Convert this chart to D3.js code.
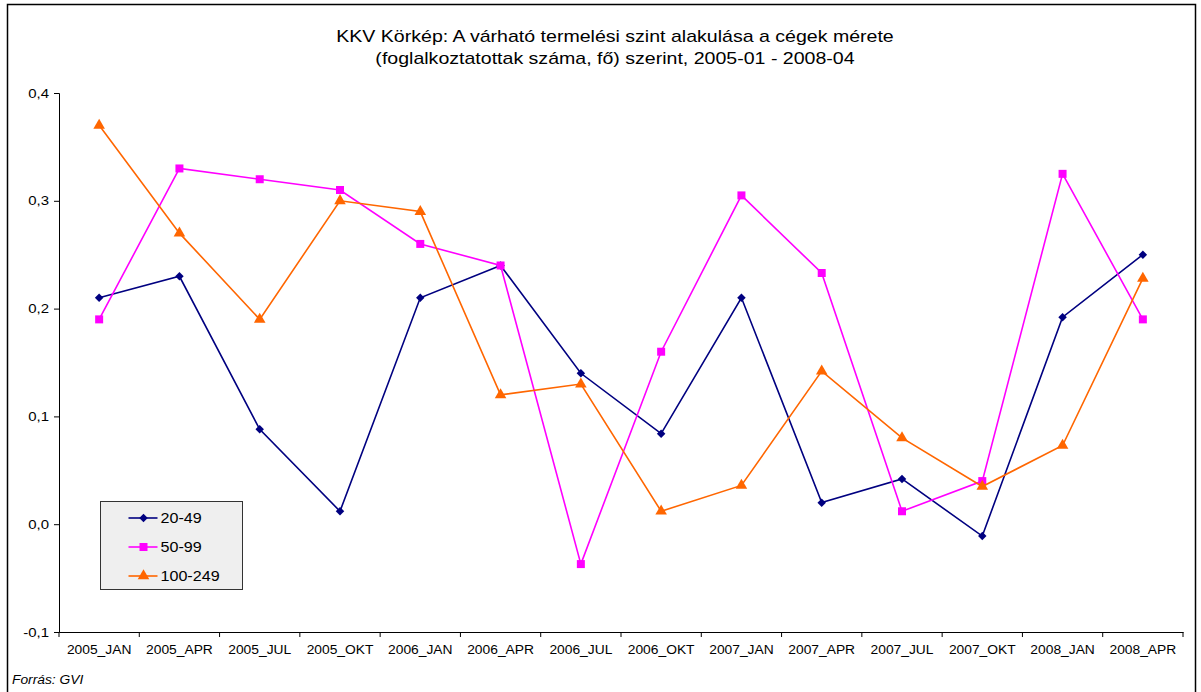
<!DOCTYPE html>
<html>
<head>
<meta charset="utf-8">
<script src="https://cdn.jsdelivr.net/npm/d3@7"></script>
<style>
  body { margin: 0; background: #fff; }
  text { font-family: "Liberation Sans", Arial, sans-serif; }
</style>
</head>
<body>
<div id="chart"></div>
<script>
var categories = ["2005_JAN", "2005_APR", "2005_JUL", "2005_OKT", "2006_JAN", "2006_APR", "2006_JUL",
  "2006_OKT", "2007_JAN", "2007_APR", "2007_JUL", "2007_OKT", "2008_JAN", "2008_APR"];
var s20_49 = [0.21, 0.23, 0.088, 0.012, 0.21, 0.24, 0.14, 0.084, 0.21, 0.020, 0.042, -0.011, 0.192, 0.25];
var s50_99 = [0.19, 0.33, 0.32, 0.31, 0.26, 0.24, -0.037, 0.16, 0.305, 0.233, 0.012, 0.04, 0.325, 0.19];
var s100_249 = [0.37, 0.27, 0.19, 0.30, 0.29, 0.12, 0.13, 0.012, 0.036, 0.142, 0.08, 0.035, 0.073, 0.228];
var seriesNames = ["20-49", "50-99", "100-249"];
var yTicks = [-0.1, 0, 0.1, 0.2, 0.3, 0.4];
var titleLines = ["KKV Körkép: A várható termelési szint alakulása a cégek mérete",
  "(foglalkoztatottak száma, fő) szerint, 2005-01 - 2008-04"];

// diamond = square turned by 45 degrees
var series = [
  { name: seriesNames[0], values: s20_49, color: "#000080", symbol: d3.symbolSquare, size: 36, rot: 45 },
  { name: seriesNames[1], values: s50_99, color: "#FF00FF", symbol: d3.symbolSquare, size: 64, rot: 0 },
  { name: seriesNames[2], values: s100_249, color: "#FF6600", symbol: d3.symbolTriangle, size: 58, rot: 0 }
];

var svgWidth = 1201, svgHeight = 692;
var margin = { top: 93, right: 18, bottom: 60, left: 59 };
var width = 1183 - margin.left;
var height = 632 - margin.top;

var svg = d3.select("#chart").append("svg")
  .attr("width", svgWidth)
  .attr("height", svgHeight);

// outer frame
svg.append("rect")
  .attr("x", 7.5).attr("y", 4.5)
  .attr("width", 1188).attr("height", 690)
  .attr("fill", "none").attr("stroke", "#000").attr("stroke-width", 1.5);

// title
svg.selectAll(".title")
  .data(titleLines)
  .enter()
  .append("text")
  .attr("class", "title")
  .attr("x", 615)
  .attr("y", (d, i) => 42 + i * 22)
  .attr("text-anchor", "middle")
  .style("font-size", "17px")
  .attr("fill", "#000")
  .text(d => d);

var chartGroup = svg.append("g")
  .attr("transform", `translate(${margin.left}, ${margin.top})`);

var xScale = d3.scaleBand()
  .domain(categories)
  .range([0, width])
  .padding(0);

var yScale = d3.scaleLinear()
  .domain([-0.1, 0.4])
  .range([height, 0]);

var huLocale = d3.formatLocale({ decimal: ",", thousands: " ", grouping: [3], currency: ["", ""], minus: "-" });
var fmt = huLocale.format(".1f");

// y axis
var leftAxis = d3.axisLeft(yScale)
  .tickValues(yTicks)
  .tickFormat(fmt)
  .tickSize(5)
  .tickPadding(5);
var yAxis = chartGroup.append("g").call(leftAxis);
yAxis.select(".domain").attr("stroke", "#000");
yAxis.selectAll("text").style("font-size", "13px").attr("fill", "#000");

// x axis (labels centered in bands, ticks at band edges)
var bottomAxis = d3.axisBottom(xScale).tickSize(0).tickPadding(13);
var xAxis = chartGroup.append("g")
  .attr("transform", `translate(0, ${height})`)
  .call(bottomAxis);
xAxis.select(".domain").attr("stroke", "#000");
xAxis.selectAll("text").style("font-size", "12px").attr("fill", "#000");

var edges = categories.map(c => xScale(c)).concat([width]);
xAxis.selectAll(".edge-tick")
  .data(edges)
  .enter()
  .append("line")
  .attr("class", "edge-tick")
  .attr("x1", d => d).attr("x2", d => d)
  .attr("y1", 0).attr("y2", 5)
  .attr("stroke", "#000");

var line = d3.line()
  .x((d, i) => xScale(categories[i]) + xScale.bandwidth() / 2)
  .y(d => yScale(d));

series.forEach(function(s) {
  chartGroup.append("path")
    .datum(s.values)
    .attr("fill", "none")
    .attr("stroke", s.color)
    .attr("stroke-width", 1.6)
    .attr("d", line);

  chartGroup.selectAll(null)
    .data(s.values)
    .enter()
    .append("path")
    .attr("d", d3.symbol().type(s.symbol).size(s.size))
    .attr("transform", (d, i) => `translate(${xScale(categories[i]) + xScale.bandwidth() / 2}, ${yScale(d)}) rotate(${s.rot})`)
    .attr("fill", s.color);
});

// legend
var legend = svg.append("g").attr("transform", "translate(100.5, 501.5)");
legend.append("rect")
  .attr("width", 142).attr("height", 88)
  .attr("fill", "#efefef").attr("stroke", "#333").attr("stroke-width", 1);

series.forEach(function(s, i) {
  var ly = 16.5 + i * 29;
  legend.append("line")
    .attr("x1", 28).attr("x2", 57)
    .attr("y1", ly).attr("y2", ly)
    .attr("stroke", s.color).attr("stroke-width", 1.6);
  legend.append("path")
    .attr("d", d3.symbol().type(s.symbol).size(s.size))
    .attr("transform", `translate(43, ${ly}) rotate(${s.rot})`)
    .attr("fill", s.color);
  legend.append("text")
    .attr("x", 60).attr("y", ly + 5)
    .style("font-size", "14px")
    .attr("fill", "#000")
    .text(s.name);
});

// source note
svg.append("text")
  .attr("x", 12).attr("y", 684)
  .style("font-size", "12px")
  .style("font-style", "italic")
  .attr("fill", "#000")
  .text("Forrás: GVI");

// the original's lettering is a little wider than Arial, stretch it
svg.selectAll("text").each(function() {
  var len = this.getComputedTextLength();
  d3.select(this)
    .attr("textLength", len * 1.15)
    .attr("lengthAdjust", "spacingAndGlyphs");
});
</script>
</body>
</html>
